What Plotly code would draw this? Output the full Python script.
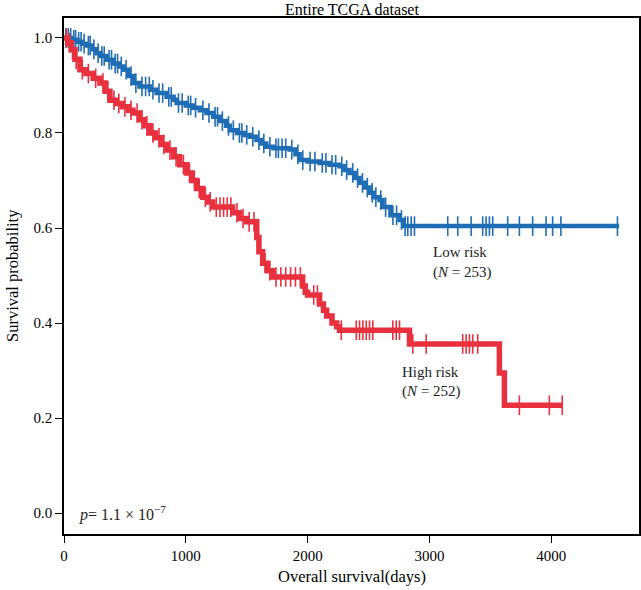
import numpy as np
import plotly.graph_objects as go

# ---- data ----
low_t = [0, 60, 110, 150, 185, 230, 267, 300, 350, 400, 450, 487, 530, 569, 620, 705, 760, 842, 900, 924,
         1000, 1060, 1115, 1170, 1225, 1280, 1330, 1361, 1420, 1480, 1525, 1580, 1620, 1660, 1720, 1852,
         1900, 1934, 2000, 2098, 2180, 2262, 2300, 2344, 2390, 2426, 2470, 2508, 2540, 2590, 2615, 2680,
         2754, 2790, 4557]
low_s = [1.0, 0.996, 0.992, 0.988, 0.984, 0.976, 0.968, 0.962, 0.954, 0.946, 0.94, 0.933, 0.92, 0.905,
         0.898, 0.891, 0.884, 0.876, 0.87, 0.863, 0.858, 0.853, 0.848, 0.842, 0.834, 0.825, 0.815, 0.806,
         0.80, 0.796, 0.792, 0.785, 0.778, 0.771, 0.768, 0.765, 0.755, 0.743, 0.74, 0.737, 0.733, 0.73,
         0.722, 0.716, 0.705, 0.695, 0.685, 0.674, 0.665, 0.659, 0.644, 0.627, 0.617, 0.604, 0.604]
low_censor = [15, 35, 55, 80, 95, 120, 140, 165, 200, 215, 245, 280, 310, 330, 370, 390, 420, 440, 470,
              510, 550, 590, 640, 670, 700, 730, 780, 810, 860, 880, 940, 970, 1020, 1040, 1080, 1140,
              1190, 1240, 1260, 1300, 1350, 1390, 1440, 1460, 1500, 1550, 1600, 1640, 1690, 1740, 1760,
              1790, 1820, 1870, 1920, 1960, 2020, 2060, 2120, 2150, 2200, 2230, 2280, 2320, 2370, 2410,
              2450, 2490, 2530, 2560, 2600, 2640, 2700, 2730, 2770, 2800, 2822, 2850, 2877, 3150, 3232,
              3342, 3437, 3465, 3492, 3519, 3642, 3738, 3847, 3957, 4011, 4079, 4543]

high_t = [0, 30, 60, 90, 131, 180, 240, 295, 340, 377, 430, 480, 530, 566, 620, 660, 705, 750, 800, 844,
          900, 950, 1008, 1050, 1090, 1139, 1180, 1221, 1385, 1440, 1500, 1582, 1600, 1631, 1670, 1713,
          1959, 1980, 2000, 2098, 2130, 2156, 2200, 2238, 2262, 2836, 3574, 3615, 4090]
high_s = [1.0, 0.99, 0.975, 0.955, 0.933, 0.925, 0.915, 0.905, 0.888, 0.869, 0.862, 0.855, 0.848, 0.842,
          0.828, 0.815, 0.80, 0.79, 0.776, 0.764, 0.75, 0.733, 0.716, 0.70, 0.683, 0.665, 0.655, 0.644,
          0.632, 0.62, 0.613, 0.58, 0.55, 0.526, 0.51, 0.497, 0.478, 0.465, 0.459, 0.44, 0.427, 0.415,
          0.40, 0.392, 0.385, 0.356, 0.295, 0.227, 0.227]
high_censor = [20, 45, 70, 100, 150, 200, 260, 320, 360, 410, 450, 500, 550, 600, 640, 680, 730, 780, 820,
               870, 920, 980, 1030, 1070, 1110, 1160, 1200, 1250, 1280, 1310, 1340, 1370, 1420, 1470, 1520,
               1560, 1650, 1690, 1740, 1780, 1820, 1860, 1900, 1940, 2050, 2080, 2276, 2399, 2426, 2453,
               2481, 2508, 2535, 2699, 2727, 2754, 2863, 2973, 3273, 3301, 3328, 3355, 3396, 3738, 3984, 4090]

BLUE = "#1f6db4"
RED = "#e8303e"
FONT = "Liberation Serif"


def step_value(times, surv, t):
    idx = np.searchsorted(np.array(times), np.array(t), side="right") - 1
    return np.array(surv)[idx]


fig = go.Figure()
for t, s, c, col, w in [(low_t, low_s, low_censor, BLUE, 4.5), (high_t, high_s, high_censor, RED, 5.5)]:
    fig.add_trace(go.Scatter(x=t, y=s, mode="lines", line=dict(shape="hv", width=w, color=col),
                             showlegend=False, hoverinfo="skip"))
    fig.add_trace(go.Scatter(x=c, y=step_value(t, s, c), mode="markers",
                             marker=dict(symbol="line-ns", size=14, line=dict(width=1.6, color=col)),
                             showlegend=False, hoverinfo="skip"))

axis_common = dict(showgrid=False, zeroline=False, showline=True, linecolor="black", linewidth=1.5,
                   mirror=True, ticks="outside", ticklen=7, tickwidth=1.3, tickcolor="black",
                   automargin=False,
                   tickfont=dict(family=FONT, size=15, color="black"))

fig.update_xaxes(range=[0, 4720], tickvals=[0, 1000, 2000, 3000, 4000], **axis_common)
fig.update_yaxes(range=[-0.044, 1.042], tickvals=[0, 0.2, 0.4, 0.6, 0.8, 1.0], tickformat=".1f",
                 **axis_common)

tfont = dict(family=FONT, size=15, color="#222222")
lfont = dict(family=FONT, size=16.5, color="black")
anns = [
    dict(x=0.5, y=1, xref="paper", yref="paper", xanchor="center", yanchor="middle", yshift=9,
         text="Entire TCGA dataset", showarrow=False, font=dict(family=FONT, size=16, color="black")),
    dict(x=0.5, y=0, xref="paper", yref="paper", xanchor="center", yanchor="middle", yshift=-42,
         text="Overall survival(days)", showarrow=False, font=lfont),
    dict(x=0, y=0.5, xref="paper", yref="paper", xanchor="center", yanchor="middle", xshift=-52,
         text="Survival probability", textangle=-90, showarrow=False, font=lfont),
    dict(x=3016, y=0.549, xanchor="left", yanchor="middle", text="Low risk", showarrow=False, font=tfont),
    dict(x=3016, y=0.507, xanchor="left", yanchor="middle", text="(<i>N</i> = 253)", showarrow=False, font=tfont),
    dict(x=2754, y=0.297, xanchor="left", yanchor="middle", text="High risk", showarrow=False, font=tfont),
    dict(x=2754, y=0.255, xanchor="left", yanchor="middle", text="(<i>N</i> = 252)", showarrow=False, font=tfont),
    dict(x=110, y=0.0, xanchor="left", yanchor="middle", text="<i>p</i>= 1.1 × 10<sup>−7</sup>",
         showarrow=False, font=dict(family=FONT, size=16, color="#222222")),
]
fig.update_layout(width=641, height=590, margin=dict(l=64, r=2, t=18, b=56),
                  plot_bgcolor="white", paper_bgcolor="white", annotations=anns,
                  font=dict(family=FONT))

fig.write_html("out.html", config={"displayModeBar": False},
               post_script="document.body.style.margin='0';document.body.style.padding='0';"
                           "document.body.style.overflow='hidden';")
